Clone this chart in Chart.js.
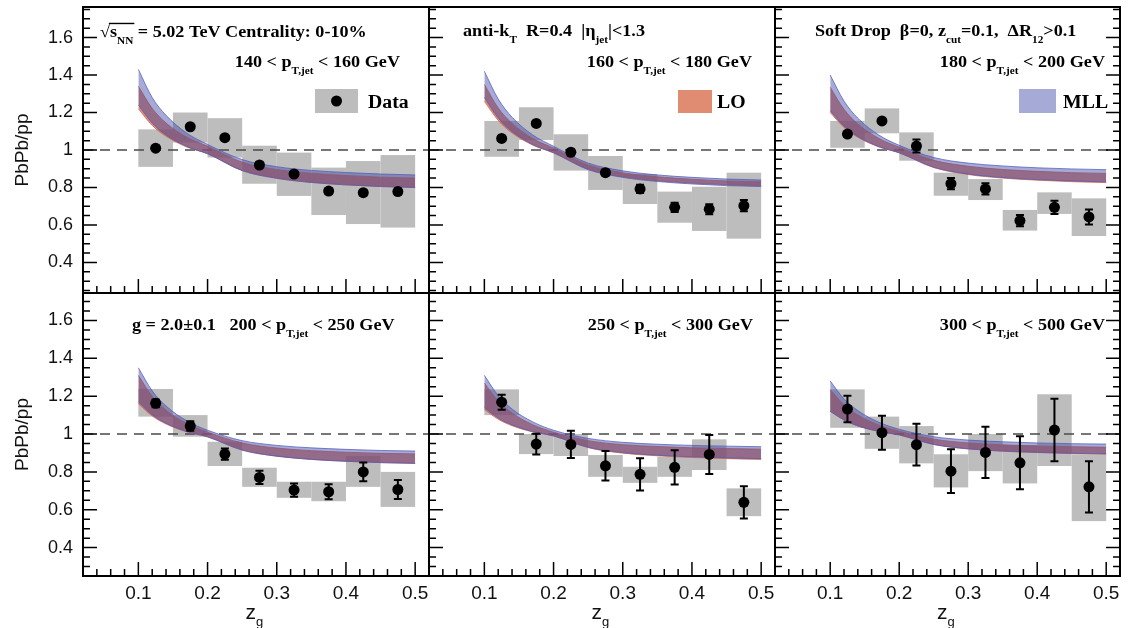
<!DOCTYPE html>
<html>
<head>
<meta charset="utf-8">
<script src="https://cdn.jsdelivr.net/npm/chart.js@4/dist/chart.umd.min.js"></script>
<style>
html, body { margin: 0; padding: 0; background: #fff; }
#wrap { position: relative; width: 1128px; height: 628px; overflow: hidden; }
#wrap canvas { position: absolute; left: 0; top: 0; }
</style>
</head>
<body>
<div id="wrap"></div>
<script>
// z_g bins
const zgCenters = [0.125, 0.175, 0.225, 0.275, 0.325, 0.375, 0.425, 0.475];
const binLow = [0.10, 0.15, 0.20, 0.25, 0.30, 0.35, 0.40, 0.45];
const binHigh = [0.15, 0.20, 0.25, 0.30, 0.35, 0.40, 0.45, 0.50];
const bandZ = [0.10, 0.12, 0.14, 0.17, 0.20, 0.25, 0.30, 0.35, 0.40, 0.45, 0.50];
const xTicks = [0.1, 0.2, 0.3, 0.4, 0.5];
const yTicks = [0.4, 0.6, 0.8, 1.0, 1.2, 1.4, 1.6];

// 140 < pT < 160
const ratio140 = [1.01, 1.124, 1.066, 0.92, 0.872, 0.781, 0.772, 0.778];
const stat140 = [0.01, 0.01, 0.012, 0.012, 0.014, 0.015, 0.015, 0.016];
const sysDn140 = [0.91, 1.04, 0.96, 0.82, 0.755, 0.653, 0.605, 0.586];
const sysUp140 = [1.11, 1.20, 1.17, 1.023, 0.986, 0.906, 0.941, 0.973];
const mllUp140 = [1.43, 1.28, 1.185, 1.09, 1.03, 0.949, 0.911, 0.891, 0.88, 0.872, 0.867];
const mllDn140 = [1.24, 1.144, 1.08, 1.019, 0.98, 0.89, 0.849, 0.827, 0.814, 0.805, 0.80];
const loUp140 = [1.34, 1.222, 1.144, 1.068, 1.02, 0.935, 0.896, 0.876, 0.864, 0.855, 0.85];
const loDn140 = [1.22, 1.131, 1.073, 1.016, 0.98, 0.89, 0.849, 0.827, 0.814, 0.805, 0.80];

// 160 < pT < 180
const ratio160 = [1.062, 1.142, 0.988, 0.879, 0.792, 0.694, 0.684, 0.703];
const stat160 = [0.012, 0.012, 0.015, 0.015, 0.022, 0.025, 0.027, 0.03];
const sysDn160 = [0.964, 1.053, 0.89, 0.787, 0.712, 0.612, 0.568, 0.527];
const sysUp160 = [1.155, 1.228, 1.084, 0.968, 0.872, 0.778, 0.804, 0.879];
const mllUp160 = [1.42, 1.272, 1.175, 1.08, 1.02, 0.93, 0.889, 0.867, 0.854, 0.845, 0.84];
const mllDn160 = [1.28, 1.171, 1.099, 1.029, 0.985, 0.895, 0.854, 0.832, 0.819, 0.81, 0.805];
const loUp160 = [1.35, 1.224, 1.142, 1.061, 1.01, 0.92, 0.879, 0.857, 0.844, 0.835, 0.83];
const loDn160 = [1.26, 1.158, 1.091, 1.026, 0.985, 0.898, 0.857, 0.836, 0.824, 0.815, 0.81];

// 180 < pT < 200
const ratio180 = [1.085, 1.155, 1.021, 0.82, 0.792, 0.623, 0.694, 0.643];
const stat180 = [0.012, 0.012, 0.035, 0.03, 0.03, 0.03, 0.035, 0.04];
const sysDn180 = [1.012, 1.089, 0.943, 0.756, 0.733, 0.57, 0.659, 0.541];
const sysUp180 = [1.155, 1.222, 1.094, 0.879, 0.845, 0.68, 0.774, 0.742];
const mllUp180 = [1.40, 1.261, 1.17, 1.081, 1.025, 0.96, 0.93, 0.915, 0.905, 0.899, 0.895];
const mllDn180 = [1.21, 1.127, 1.072, 1.019, 0.985, 0.908, 0.872, 0.853, 0.842, 0.835, 0.83];
const loUp180 = [1.335, 1.217, 1.139, 1.063, 1.015, 0.945, 0.913, 0.896, 0.886, 0.879, 0.875];
const loDn180 = [1.20, 1.12, 1.068, 1.017, 0.985, 0.906, 0.869, 0.85, 0.839, 0.831, 0.826];

// 200 < pT < 250
const ratio200 = [1.162, 1.042, 0.894, 0.771, 0.704, 0.695, 0.80, 0.707];
const stat200 = [0.02, 0.025, 0.03, 0.035, 0.035, 0.04, 0.05, 0.05];
const sysDn200 = [1.092, 0.986, 0.831, 0.721, 0.663, 0.645, 0.721, 0.615];
const sysUp200 = [1.238, 1.10, 0.959, 0.822, 0.748, 0.748, 0.884, 0.80];
const mllUp200 = [1.35, 1.228, 1.148, 1.07, 1.02, 0.965, 0.94, 0.927, 0.919, 0.913, 0.91];
const mllDn200 = [1.17, 1.102, 1.057, 1.013, 0.985, 0.915, 0.883, 0.866, 0.856, 0.849, 0.845];
const loUp200 = [1.31, 1.199, 1.126, 1.055, 1.01, 0.953, 0.926, 0.912, 0.904, 0.898, 0.895];
const loDn200 = [1.16, 1.095, 1.053, 1.011, 0.985, 0.915, 0.883, 0.866, 0.856, 0.849, 0.845];

// 250 < pT < 300
const ratio250 = [1.168, 0.947, 0.945, 0.832, 0.787, 0.824, 0.892, 0.639];
const stat250 = [0.04, 0.055, 0.072, 0.078, 0.085, 0.09, 0.103, 0.085];
const sysDn250 = [1.10, 0.894, 0.884, 0.774, 0.742, 0.774, 0.81, 0.566];
const sysUp250 = [1.236, 1.0, 1.0, 0.889, 0.827, 0.88, 0.972, 0.713];
const mllUp250 = [1.31, 1.203, 1.132, 1.064, 1.02, 0.977, 0.956, 0.946, 0.94, 0.936, 0.933];
const mllDn250 = [1.14, 1.085, 1.048, 1.013, 0.99, 0.93, 0.902, 0.888, 0.88, 0.874, 0.87];
const loUp250 = [1.27, 1.174, 1.111, 1.049, 1.01, 0.965, 0.944, 0.934, 0.927, 0.923, 0.92];
const loDn250 = [1.13, 1.078, 1.044, 1.011, 0.99, 0.928, 0.899, 0.885, 0.876, 0.87, 0.866];

// 300 < pT < 500
const ratio300 = [1.132, 1.007, 0.944, 0.804, 0.903, 0.848, 1.021, 0.721];
const stat300 = [0.07, 0.09, 0.11, 0.115, 0.135, 0.14, 0.165, 0.135];
const sysDn300 = [1.033, 0.922, 0.845, 0.718, 0.804, 0.739, 0.831, 0.54];
const sysUp300 = [1.236, 1.092, 1.042, 0.893, 1.0, 0.942, 1.21, 0.893];
const mllUp300 = [1.28, 1.186, 1.124, 1.063, 1.025, 0.986, 0.968, 0.959, 0.953, 0.949, 0.947];
const mllDn300 = [1.12, 1.074, 1.043, 1.014, 0.995, 0.945, 0.922, 0.91, 0.903, 0.898, 0.895];
const loUp300 = [1.235, 1.154, 1.1, 1.048, 1.015, 0.973, 0.953, 0.943, 0.937, 0.933, 0.93];
const loDn300 = [1.12, 1.074, 1.043, 1.014, 0.995, 0.945, 0.921, 0.909, 0.902, 0.897, 0.894];

const SERIF = "'Liberation Serif', 'Times New Roman', serif";
const SANS = "'Liberation Sans', Arial, sans-serif";
const colLeft = [83, 429, 775], colRight = [429, 775, 1120];
const rowTop = [7, 293], rowBottom = [293, 576];
const yRange = [[0.237, 1.763], [0.25, 1.745]];

function ptLabel(a, b) {
  return [{ t: a + ' < p' }, { t: 'T,jet', sub: true }, { t: ' < ' + b + ' GeV' }];
}

const panels = [
  { row: 0, col: 0, ratio: ratio140, stat: stat140, sysDn: sysDn140, sysUp: sysUp140,
    mllUp: mllUp140, mllDn: mllDn140, loUp: loUp140, loDn: loDn140,
    texts: [
      { segs: [{ t: '\u221A' }, { t: 's', over: true }, { t: 'NN', sub: true, over: true }, { t: ' = 5.02 TeV Centrality: 0-10%' }], x: 100, y: 37, align: 'left' },
      { segs: ptLabel(140, 160), x: 400, y: 67, align: 'right' }
    ],
    legend: { box: [315, 89, 43, 24], color: '#bdbdbd', dot: true, text: 'Data', tx: 368 } },
  { row: 0, col: 1, ratio: ratio160, stat: stat160, sysDn: sysDn160, sysUp: sysUp160,
    mllUp: mllUp160, mllDn: mllDn160, loUp: loUp160, loDn: loDn160,
    texts: [
      { segs: [{ t: 'anti-k' }, { t: 'T', sub: true }, { t: '  R=0.4  |\u03B7' }, { t: 'jet', sub: true }, { t: '|<1.3' }], x: 463, y: 36, align: 'left' },
      { segs: ptLabel(160, 180), x: 752, y: 67, align: 'right' }
    ],
    legend: { box: [678, 90, 34, 23], color: '#e08c73', dot: false, text: 'LO', tx: 717 } },
  { row: 0, col: 2, ratio: ratio180, stat: stat180, sysDn: sysDn180, sysUp: sysUp180,
    mllUp: mllUp180, mllDn: mllDn180, loUp: loUp180, loDn: loDn180,
    texts: [
      { segs: [{ t: 'Soft Drop  \u03B2=0, z' }, { t: 'cut', sub: true }, { t: '=0.1,  \u0394R' }, { t: '12', sub: true }, { t: '>0.1' }], x: 815, y: 36, align: 'left' },
      { segs: ptLabel(180, 200), x: 1105, y: 67, align: 'right' }
    ],
    legend: { box: [1019, 89, 37, 24], color: '#a5aad7', dot: false, text: 'MLL', tx: 1063 } },
  { row: 1, col: 0, ratio: ratio200, stat: stat200, sysDn: sysDn200, sysUp: sysUp200,
    mllUp: mllUp200, mllDn: mllDn200, loUp: loUp200, loDn: loDn200,
    texts: [
      { segs: [{ t: 'g = 2.0\u00B10.1   200 < p' }, { t: 'T,jet', sub: true }, { t: ' < 250 GeV' }], x: 132, y: 330, align: 'left' }
    ] },
  { row: 1, col: 1, ratio: ratio250, stat: stat250, sysDn: sysDn250, sysUp: sysUp250,
    mllUp: mllUp250, mllDn: mllDn250, loUp: loUp250, loDn: loDn250,
    texts: [{ segs: ptLabel(250, 300), x: 753, y: 330, align: 'right' }] },
  { row: 1, col: 2, ratio: ratio300, stat: stat300, sysDn: sysDn300, sysUp: sysUp300,
    mllUp: mllUp300, mllDn: mllDn300, loUp: loUp300, loDn: loDn300,
    texts: [{ segs: ptLabel(300, 500), x: 1105, y: 330, align: 'right' }] }
];

function richText(ctx, segs, x, y, size, align) {
  const sx = 1.1;
  ctx.save();
  let w = 0;
  const widths = segs.map(s => {
    ctx.font = 'bold ' + (s.sub ? size * 0.62 : size) + 'px ' + SERIF;
    const sw = ctx.measureText(s.t).width;
    w += sw;
    return sw;
  });
  const x0 = align === 'right' ? x - w * sx : x;
  ctx.translate(x0, y);
  ctx.scale(sx, 1);
  ctx.fillStyle = '#000';
  ctx.textAlign = 'left';
  ctx.textBaseline = 'alphabetic';
  let px = 0, o0 = null, o1 = 0;
  segs.forEach((s, i) => {
    ctx.font = 'bold ' + (s.sub ? size * 0.62 : size) + 'px ' + SERIF;
    ctx.fillText(s.t, px, s.sub ? size * 0.42 : 0);
    if (s.over) { if (o0 === null) o0 = px; o1 = px + widths[i]; }
    px += widths[i];
  });
  if (o0 !== null) {
    ctx.strokeStyle = '#000';
    ctx.lineWidth = 1.4;
    ctx.beginPath();
    ctx.moveTo(o0 - 1, -size * 0.82);
    ctx.lineTo(o1 + 1, -size * 0.82);
    ctx.stroke();
  }
  ctx.restore();
}

const panelPlugin = {
  id: 'panelDecor',
  beforeDatasetsDraw(chart) {
    const p = chart.options.plugins.panelDecor.panel;
    const { ctx, chartArea: a, scales: { x, y } } = chart;
    ctx.save();
    ctx.beginPath();
    ctx.rect(a.left, a.top, a.width, a.height);
    ctx.clip();
    // systematic boxes
    ctx.fillStyle = '#bdbdbd';
    zgCenters.forEach((c, i) => {
      const x0 = x.getPixelForValue(binLow[i]), x1 = x.getPixelForValue(binHigh[i]);
      const y0 = y.getPixelForValue(p.sysUp[i]), y1 = y.getPixelForValue(p.sysDn[i]);
      ctx.fillRect(x0, y0, x1 - x0, y1 - y0);
    });
    // unity line
    const y1 = y.getPixelForValue(1);
    ctx.strokeStyle = '#4a4a4a';
    ctx.lineWidth = 1.5;
    ctx.setLineDash([10, 7]);
    ctx.beginPath();
    ctx.moveTo(a.left, y1);
    ctx.lineTo(a.right, y1);
    ctx.stroke();
    ctx.restore();
  },
  afterDatasetsDraw(chart) {
    const p = chart.options.plugins.panelDecor.panel;
    const { ctx, chartArea: a, scales: { x, y } } = chart;
    ctx.save();
    // stat error bars
    ctx.strokeStyle = '#000';
    ctx.lineWidth = 2;
    zgCenters.forEach((c, i) => {
      const px = x.getPixelForValue(c);
      const yt = y.getPixelForValue(p.ratio[i] + p.stat[i]);
      const yb = y.getPixelForValue(p.ratio[i] - p.stat[i]);
      ctx.beginPath();
      ctx.moveTo(px, yt); ctx.lineTo(px, yb);
      ctx.moveTo(px - 4, yt); ctx.lineTo(px + 4, yt);
      ctx.moveTo(px - 4, yb); ctx.lineTo(px + 4, yb);
      ctx.stroke();
    });

    // labels
    p.texts.forEach(t => richText(ctx, t.segs, t.x, t.y, 16.5, t.align));

    // legend entry
    if (p.legend) {
      const L = p.legend;
      ctx.fillStyle = L.color;
      ctx.fillRect(L.box[0], L.box[1], L.box[2], L.box[3]);
      if (L.dot) {
        ctx.fillStyle = '#000';
        ctx.beginPath();
        ctx.arc(L.box[0] + L.box[2] / 2, L.box[1] + L.box[3] / 2, 5.5, 0, Math.PI * 2);
        ctx.fill();
      }
      ctx.save();
      ctx.translate(L.tx, 108);
      ctx.scale(1.1, 1);
      ctx.fillStyle = '#000';
      ctx.font = 'bold 18px ' + SERIF;
      ctx.textBaseline = 'alphabetic';
      ctx.fillText(L.text, 0, 0);
      ctx.restore();
    }

    // frame
    ctx.strokeStyle = '#000';
    ctx.lineWidth = 2;
    ctx.strokeRect(a.left, a.top, a.width, a.height);

    // inward tick marks
    ctx.lineWidth = 1.5;
    ctx.beginPath();
    for (let i = 2; i <= 25; i++) {
      const v = i * 0.02;
      const px = x.getPixelForValue(v);
      const len = i % 5 === 0 ? 14 : 7;
      ctx.moveTo(px, a.bottom); ctx.lineTo(px, a.bottom - len);
    }
    for (let i = 5; i <= 35; i++) {
      const v = i * 0.05;
      if (v < y.min || v > y.max) continue;
      const py = y.getPixelForValue(v);
      const len = i % 4 === 0 ? 14 : 7;
      ctx.moveTo(a.left, py); ctx.lineTo(a.left + len, py);
      if (p.col === 2) { ctx.moveTo(a.right, py); ctx.lineTo(a.right - len, py); }
    }
    ctx.stroke();

    // z_g axis title
    if (p.row === 1) {
      const cx = (a.left + a.right) / 2;
      ctx.fillStyle = '#111';
      ctx.font = '21px ' + SANS;
      ctx.textBaseline = 'alphabetic';
      const zw = ctx.measureText('z').width;
      ctx.fillText('z', cx - zw, 619);
      ctx.font = '13px ' + SANS;
      ctx.fillText('g', cx, 626);
    }
    ctx.restore();
  }
};

const wrap = document.getElementById('wrap');
panels.forEach(p => {
  const cv = document.createElement('canvas');
  cv.width = 1128;
  cv.height = 628;
  wrap.appendChild(cv);
  const pts = zgCenters.map((c, i) => ({ x: c, y: p.ratio[i] }));
  const band = arr => bandZ.map((z, i) => ({ x: z, y: arr[i] }));
  new Chart(cv.getContext('2d'), {
    type: 'line',
    data: {
      datasets: [
        { label: 'Data', data: pts, showLine: false, pointRadius: 5.5, pointHoverRadius: 5.5,
          pointBackgroundColor: '#000', pointBorderWidth: 0 },
        { label: 'MLL up', data: band(p.mllUp), borderColor: 'rgba(80,92,185,0.75)', borderWidth: 1,
          pointRadius: 0, fill: false, cubicInterpolationMode: 'monotone' },
        { label: 'MLL', data: band(p.mllDn), borderColor: 'rgba(80,92,185,0.75)', borderWidth: 1,
          pointRadius: 0, fill: '-1', backgroundColor: 'rgba(55,66,166,0.45)', cubicInterpolationMode: 'monotone' },
        { label: 'LO up', data: band(p.loUp), borderColor: 'rgba(215,105,75,0.8)', borderWidth: 1,
          pointRadius: 0, fill: false, cubicInterpolationMode: 'monotone' },
        { label: 'LO', data: band(p.loDn), borderColor: 'rgba(215,105,75,0.8)', borderWidth: 1,
          pointRadius: 0, fill: '-1', backgroundColor: 'rgba(212,91,55,0.7)', cubicInterpolationMode: 'monotone' }
      ]
    },
    options: {
      responsive: false,
      animation: false,
      devicePixelRatio: 1,
      events: [],
      layout: {
        padding: {
          left: p.col === 0 ? 0 : colLeft[p.col],
          right: 1128 - colRight[p.col],
          top: rowTop[p.row],
          bottom: p.row === 1 ? 0 : 628 - rowBottom[p.row]
        }
      },
      plugins: {
        legend: { display: false },
        tooltip: { enabled: false },
        panelDecor: { panel: p }
      },
      scales: {
        x: {
          type: 'linear',
          min: 0.02,
          max: 0.52,
          afterBuildTicks: s => { s.ticks = xTicks.map(v => ({ value: v })); },
          afterFit: s => {
            s.height = p.row === 1 ? 628 - rowBottom[1] : 0;
            s.paddingLeft = 0; s.paddingRight = 0;
          },
          grid: { display: false, drawTicks: false },
          border: { display: false },
          ticks: {
            display: p.row === 1,
            padding: 6,
            maxRotation: 0,
            color: '#111',
            font: { family: SANS, size: 19 },
            callback: v => String(Math.round(v * 10) / 10)
          }
        },
        y: {
          type: 'linear',
          min: yRange[p.row][0],
          max: yRange[p.row][1],
          afterBuildTicks: s => { s.ticks = yTicks.map(v => ({ value: v })); },
          afterFit: s => {
            s.width = p.col === 0 ? colLeft[0] : 0;
            s.paddingTop = 0; s.paddingBottom = 0;
          },
          grid: { display: false, drawTicks: false },
          border: { display: false },
          ticks: {
            display: p.col === 0,
            padding: 10,
            color: '#111',
            font: { family: SANS, size: 18 },
            callback: v => String(Math.round(v * 10) / 10)
          },
          title: {
            display: p.col === 0,
            text: 'PbPb/pp',
            color: '#111',
            font: { family: SANS, size: 19 },
            padding: { top: 11, bottom: 0 }
          }
        }
      }
    },
    plugins: [panelPlugin]
  });
});
</script>
</body>
</html>
